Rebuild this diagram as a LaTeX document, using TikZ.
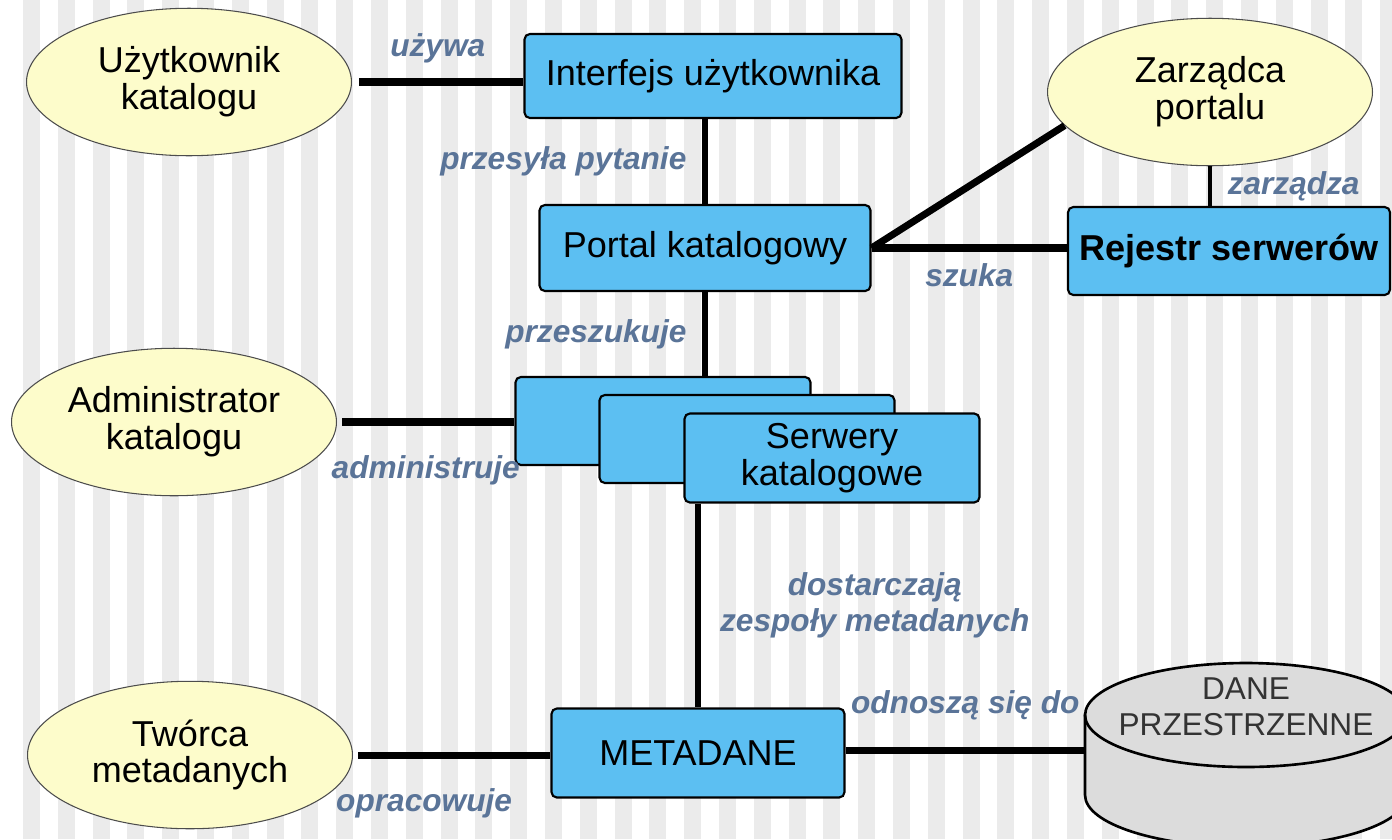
\documentclass[tikz,border=0pt]{standalone}
\usepackage{fontspec}
\setmainfont{Liberation Sans}
\usetikzlibrary{shapes.geometric}
\definecolor{boxblue}{HTML}{5CBFF2}
\definecolor{ellyellow}{HTML}{FDFCCB}
\definecolor{cylgray}{HTML}{DCDCDC}
\definecolor{lblblue}{HTML}{5A7498}
\definecolor{stripegray}{HTML}{EBEBEB}
\tikzset{
    actor/.style={ellipse, draw=gray!60!black, line width=0.6pt, fill=ellyellow,
        minimum width=6.5cm, minimum height=2.95cm, align=center,
        font=\fontsize{20.5}{21}\selectfont},
    unit/.style={draw, line width=1.2pt, rounded corners=3pt, fill=boxblue,
        align=center, inner sep=0pt, font=\fontsize{20.5}{21}\selectfont},
    lbl/.style={text=lblblue, inner sep=1pt, align=center,
        font=\fontsize{18}{20.5}\selectfont\bfseries\itshape},
    conn/.style={line width=4pt},
    vconn/.style={line width=3.2pt},
    thinconn/.style={line width=2.2pt},
}
\begin{document}
\begin{tikzpicture}[x=0.02cm,y=0.02cm]
    \useasboundingbox (0,0) rectangle (1392,-839);
    % striped background
    \fill[white] (0,0) rectangle (1392,-839);
    \foreach \i in {0,...,39}
        \fill[stripegray] ({23+34.8*\i},0) rectangle ++(17,-839);

    % actors
    \node[actor] (user) at (189,-82) {Użytkownik\\katalogu};
    \node[actor] (zarz) at (1210,-92) {Zarządca\\portalu};
    \node[actor] (admin) at (174,-422) {Administrator\\katalogu};
    \node[actor] (twor) at (190,-755) {Twórca\\metadanych};

    % system parts
    \node[unit, minimum width=7.54cm, minimum height=1.68cm] (iface) at (713,-76) {Interfejs użytkownika};
    \node[unit, minimum width=6.62cm, minimum height=1.72cm] (portal) at (705,-248) {Portal katalogowy};
    \node[unit, minimum width=6.44cm, minimum height=1.76cm, font=\fontsize{20.5}{21}\selectfont\bfseries] (rej) at (1229,-251) {Rejestr serwerów};
    \node[unit, minimum width=5.9cm, minimum height=1.76cm] (srv1) at (663,-421) {};
    \node[unit, minimum width=5.9cm, minimum height=1.76cm] (srv2) at (747,-439) {};
    \node[unit, minimum width=5.9cm, minimum height=1.78cm] (srv3) at (832,-458) {Serwery\\katalogowe};
    \node[unit, minimum width=5.86cm, minimum height=1.78cm] (meta) at (698,-753) {METADANE};

    % spatial data store
    \path[draw, line width=1.5pt, fill=cylgray] (1085,-715) -- (1085,-795)
        arc[start angle=180, end angle=360, x radius=3.22cm, y radius=1.04cm]
        -- (1407,-715)
        arc[start angle=0, end angle=180, x radius=3.22cm, y radius=1.04cm] -- cycle;
    \draw[line width=1.5pt] (1085,-715)
        arc[start angle=180, end angle=360, x radius=3.22cm, y radius=1.04cm];
    \node[text=black!80, align=center, font=\fontsize{18}{20.5}\selectfont] (dane) at (1246,-707) {DANE\\PRZESTRZENNE};
    \coordinate (cylw) at (1085,-750);

    % connectors
    \draw[conn, shorten <=4pt] (user.east) -- node[lbl, above=8pt] (luzywa) {używa} (user.east -| iface.west);
    \draw[vconn] (iface.south -| portal) -- node[lbl, left=8pt] (lprzes) {przesyła pytanie} (portal.north);
    \draw[conn] (portal.east) -- (zarz.193);
    \draw[conn] (portal.east) -- node[lbl, below=6pt] (lszuka) {szuka} (portal.east -| rej.west);
    \draw[thinconn] (zarz.south) -- node[lbl, right=8pt] (lzarz) {zarządza} (zarz.south |- rej.north);
    \draw[vconn] (portal.south) -- node[lbl, left=8pt] (lprzesz) {przeszukuje} (portal.south |- srv1.north);
    \draw[conn, shorten <=3pt] (admin.east) -- node[lbl, below=16pt] (ladmin) {administruje} (admin.east -| srv1.west);
    \draw[vconn] (srv3.south -| meta) -- node[lbl, right=10pt] (ldost) {dostarczają\\zespoły metadanych} (meta.north);
    \draw[conn, shorten <=3pt] (twor.east) -- node[lbl, below=16pt, pos=0.36] (lopr) {opracowuje} (twor.east -| meta.west);
    \draw[conn] (meta.east |- cylw) -- node[lbl, above=14pt] (lodn) {odnoszą się do} (cylw);
\end{tikzpicture}
\end{document}
